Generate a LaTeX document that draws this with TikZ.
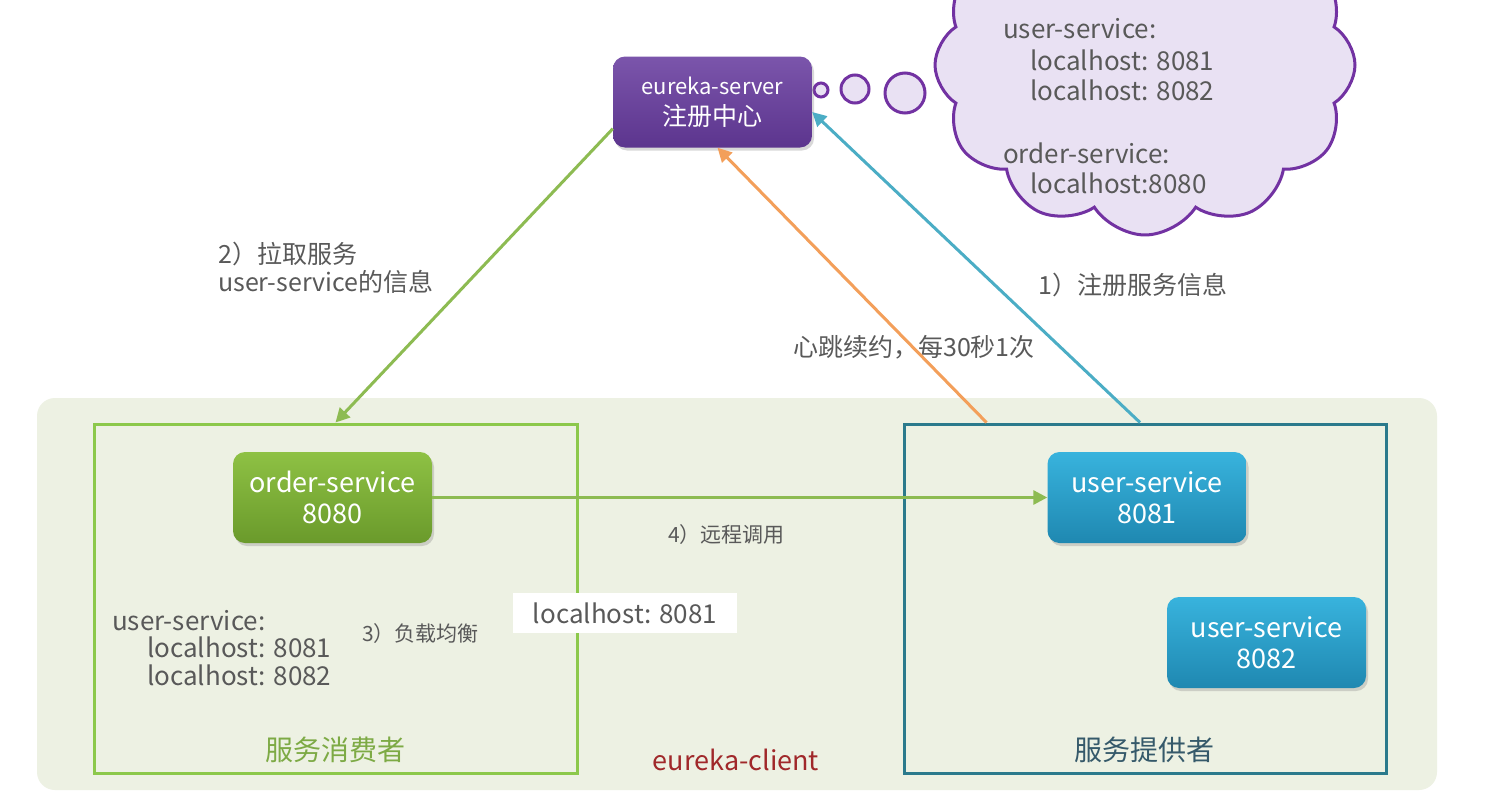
\documentclass[tikz,border=0pt]{standalone}
\usepackage{fontspec}
\setmainfont{Noto Sans CJK SC}
\usetikzlibrary{positioning,shapes.symbols,shadows,arrows.meta}

\definecolor{srvtop}{HTML}{7B55AB}
\definecolor{srvbottom}{HTML}{5C358E}
\definecolor{ordertop}{HTML}{8EC144}
\definecolor{orderbottom}{HTML}{6A9A2B}
\definecolor{usertop}{HTML}{38B3DD}
\definecolor{userbottom}{HTML}{1F88B1}
\definecolor{cloudfill}{HTML}{E9E1F3}
\definecolor{cloudline}{HTML}{7232A2}
\definecolor{clientbg}{HTML}{EDF1E3}
\definecolor{consumerline}{HTML}{8CC84B}
\definecolor{providerline}{HTML}{2B7A8C}
\definecolor{consumertext}{HTML}{7DAA45}
\definecolor{providertext}{HTML}{35596A}
\definecolor{pullgreen}{HTML}{8DBB52}
\definecolor{beatorange}{HTML}{F39F5A}
\definecolor{regblue}{HTML}{4BADC5}
\definecolor{txtgray}{HTML}{595959}
\definecolor{clientred}{HTML}{A0282A}

\begin{document}
\begin{tikzpicture}[x=1pt,y=-1pt,
	srvbox/.style={rounded corners=12pt, minimum width=199pt, minimum height=91pt, text=white, align=center,
		font=\fontsize{27}{31}\selectfont, drop shadow={shadow xshift=2pt, shadow yshift=-3pt, opacity=0.3}},
	groupbox/.style={draw, line width=3pt, minimum width=483pt, minimum height=349pt},
	listtext/.style={text=txtgray, font=\fontsize{26}{30}\selectfont, anchor=base west, inner sep=0pt},
	hinttext/.style={text=txtgray, font=\fontsize{25}{29}\selectfont, anchor=base west, inner sep=0pt},
	smalltext/.style={text=txtgray, font=\fontsize{21}{24}\selectfont, anchor=base west, inner sep=0pt},
	flowarrow/.style={line width=3pt, -{Triangle[length=14pt,width=14pt]}},
	bubble/.style={draw=cloudline, fill=cloudfill, line width=3pt}]
	\fill[white] (0,0) rectangle (1508,795);
	\useasboundingbox (0,0) rectangle (1508,795);
	\clip (0,0) rectangle (1508,795);
	
	\fill[clientbg, rounded corners=18pt] (37,398) rectangle (1437,790);
	\node[groupbox, draw=consumerline] (consumer) at (335.5,598.5) {};
	\node[groupbox, draw=providerline, minimum width=482pt] (provider) at (1145,598.5) {};
	
	\node[cloud, cloud puffs=12, cloud puff arc=115, draw=cloudline, fill=cloudfill, line width=3pt,
		minimum width=420pt, minimum height=340pt] (cloud) at (1145,65) {};
	\draw[bubble] (821,90) circle (7);
	\draw[bubble] (855,89) circle (14);
	\draw[bubble] (905,93) circle (20);
	
	\node[listtext] (c1) at (1003,38) {user-service:};
	\node[listtext] (c2) at (1030,70) {localhost: 8081};
	\node[listtext] (c3) at (1030,100) {localhost: 8082};
	\node[listtext] (c4) at (1003,163) {order-service:};
	\node[listtext] (c5) at (1030,193) {localhost:8080};
	
	\node[srvbox, top color=srvtop, bottom color=srvbottom] (srv) at (712.5,102)
		{{\fontsize{22}{25}\selectfont eureka-server}\\{\fontsize{25}{28}\selectfont 注册中心}};
	\node[srvbox, top color=ordertop, bottom color=orderbottom] (order) at (332.5,497.5) {order-service\\8080};
	\node[srvbox, top color=usertop, bottom color=userbottom] (u1) at (1147,497.5) {user-service\\8081};
	\node[srvbox, top color=usertop, bottom color=userbottom] (u2) at (1266.5,642.5) {user-service\\8082};
	
	\node[hinttext] (pull1) at (218,263) {2）拉取服务};
	\node[hinttext] (pull2) at (218,291) {user-service的信息};
	\node[hinttext] (reg) at (1038,294) {1）注册服务信息};
	\node[hinttext] (beat) at (793,356) {心跳续约，每30秒1次};
	\node[smalltext] (call) at (668,542) {4）远程调用};
	\node[smalltext] (lb) at (362,641) {3）负载均衡};
	
	\node[listtext] (l1) at (112,630) {user-service:};
	\node[listtext] (l2) at (147,657) {localhost: 8081};
	\node[listtext] (l3) at (147,685) {localhost: 8082};
	\node[fill=white, minimum width=224pt, minimum height=40pt, text=txtgray,
		font=\fontsize{26}{30}\selectfont] (pick) at (625,613) {localhost: 8081};
	
	\node[anchor=base, text=consumertext, font=\fontsize{28}{32}\selectfont] (ctitle) at (335,760) {服务消费者};
	\node[anchor=base, text=providertext, font=\fontsize{28}{32}\selectfont] (ptitle) at (1144,760) {服务提供者};
	\node[anchor=base, text=clientred, font=\fontsize{27}{31}\selectfont] (client) at (736,770) {eureka-client};
	
	\draw[flowarrow, pullgreen] (srv.195) -- (consumer.north);
	\draw[flowarrow, beatorange] ([xshift=84pt]provider.north west) -- ([xshift=5pt]srv.south);
	\draw[flowarrow, regblue] ([xshift=-5pt]provider.north) -- ([yshift=-10pt]srv.east);
	\draw[flowarrow, pullgreen] (order) -- (u1);
\end{tikzpicture}
\end{document}
